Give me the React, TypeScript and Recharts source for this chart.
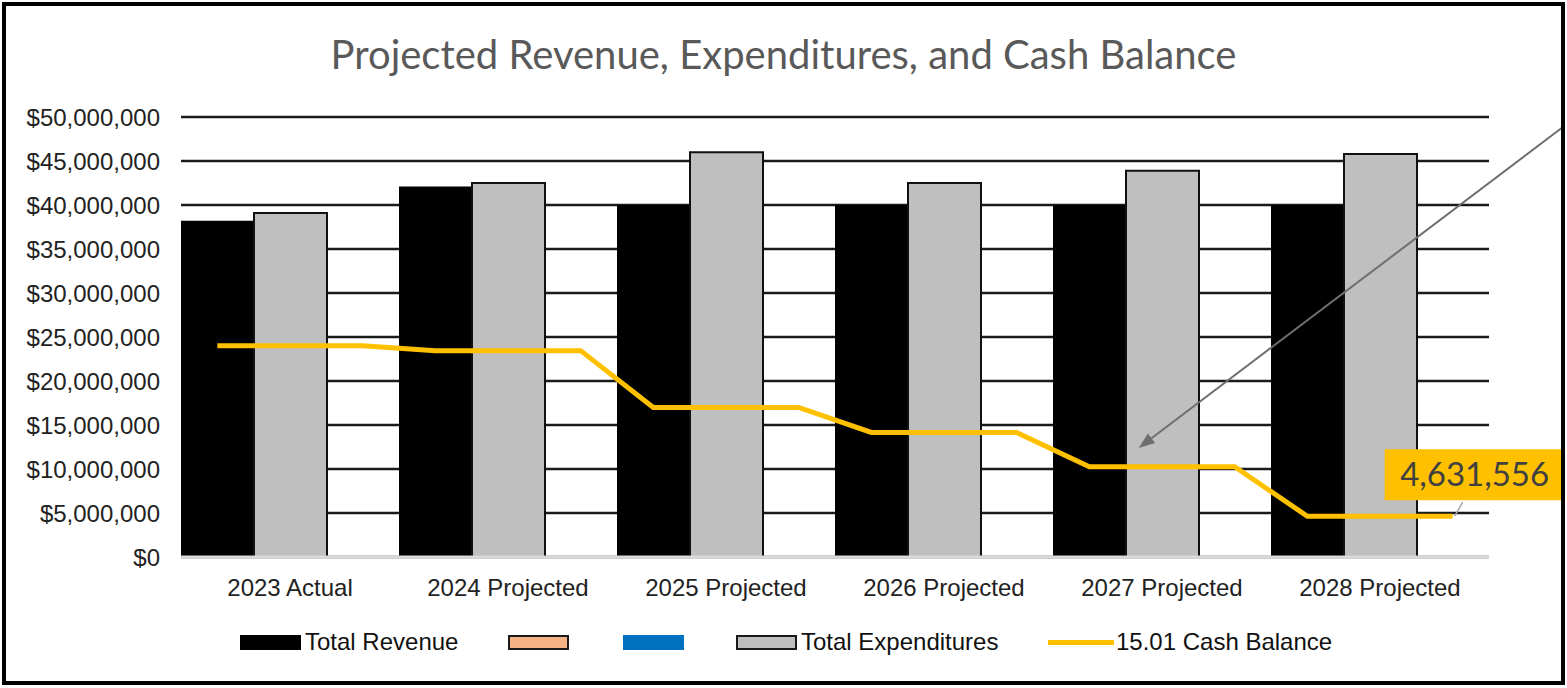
import React from 'react';
import {
  ComposedChart,
  Bar,
  Line,
  XAxis,
  YAxis,
  CartesianGrid,
  LabelList,
  ReferenceLine,
} from 'recharts';

const categories = [
  '2023 Actual',
  '2024 Projected',
  '2025 Projected',
  '2026 Projected',
  '2027 Projected',
  '2028 Projected',
];
const totalRevenue = [38200000, 42100000, 40000000, 40000000, 40000000, 40000000];
const totalExpenditures = [39100000, 42500000, 46000000, 42500000, 43900000, 45800000];
const orangeSeries = [0, 0, 0, 0, 0, 0];
const blueSeries = [0, 0, 0, 0, 0, 0];
const cashBalance = [24000000, 23450000, 17000000, 14150000, 10250000, 4631556];
const yTicks = [0, 5000000, 10000000, 15000000, 20000000, 25000000, 30000000, 35000000, 40000000, 45000000, 50000000];

const legendItems = [
  { label: 'Total Revenue', kind: 'rect', fill: '#000000', stroke: '#000000' },
  { label: '', kind: 'rect', fill: '#F4B183', stroke: '#1a1a1a' },
  { label: '', kind: 'rect', fill: '#0070C0', stroke: '#0070C0' },
  { label: 'Total Expenditures', kind: 'rect', fill: '#bfbfbf', stroke: '#1a1a1a' },
  { label: '15.01 Cash Balance', kind: 'line', fill: '#FFC000', stroke: '#FFC000' },
];
const legendLefts = [240, 508, 623, 736, 1048];

const barData = categories.map((name, i) => ({
  name,
  revenue: totalRevenue[i],
  expenditures: totalExpenditures[i],
  orange: orangeSeries[i],
  blue: blueSeries[i],
}));

// each category holds 3 bar slots; the cash line is flat from the 1st slot centre to the 3rd
const lineData = cashBalance.flatMap((v, i) => [
  { x: i * 3 + 0.5, cash: v },
  { x: i * 3 + 2.5, cash: v },
]);

const FONT = '"Liberation Sans", Arial, sans-serif';
const TITLE_FONT = 'Lato, "Open Sans", sans-serif';

const fmtDollar = (v: number) => '$' + v.toLocaleString('en-US');

const CashLabel = (props: any) => {
  const { x, y, index, value } = props;
  if (index !== lineData.length - 1) return null;
  return (
    <g>
      <line x1={x + 2} y1={y} x2={x + 10} y2={y - 14} stroke="#a6a6a6" strokeWidth={1.5} />
      <rect x={x - 68} y={y - 67} width={180} height={51} fill="#FFC000" />
      <text
        x={x + 22}
        y={y - 30}
        textAnchor="middle"
        fontFamily={TITLE_FONT}
        fontSize={33}
        fill="#404040"
      >
        {Number(value).toLocaleString('en-US')}
      </text>
    </g>
  );
};

const ArrowShape = (props: any) => {
  const { x1, y1, x2, y2 } = props;
  const ang = Math.atan2(y2 - y1, x2 - x1);
  const len = 16;
  const w = 6;
  const bx = x2 - len * Math.cos(ang);
  const by = y2 - len * Math.sin(ang);
  const px = -Math.sin(ang) * w;
  const py = Math.cos(ang) * w;
  return (
    <g>
      <line x1={x1} y1={y1} x2={bx} y2={by} stroke="#6e6e6e" strokeWidth={2} />
      <polygon points={`${x2},${y2} ${bx + px},${by + py} ${bx - px},${by - py}`} fill="#6e6e6e" />
    </g>
  );
};

export default function App() {
  return (
    <div
      style={{
        position: 'absolute',
        left: 0,
        top: 0,
        width: 1567,
        height: 688,
        background: '#ffffff',
        overflow: 'hidden',
      }}
    >
      <div
        style={{
          position: 'absolute',
          left: 0,
          top: 30,
          width: 1567,
          textAlign: 'center',
          fontFamily: TITLE_FONT,
          fontSize: 40,
          color: '#595959',
          lineHeight: '48px',
        }}
      >
        Projected Revenue, Expenditures, and Cash Balance
      </div>
      <ComposedChart
        width={1567}
        height={688}
        data={barData}
        margin={{ top: 117, right: 78, left: 0, bottom: 101 }}
        barCategoryGap={0}
        barGap={0}
        style={{ position: 'absolute', left: 0, top: 0 }}
      >
        <CartesianGrid vertical={false} stroke="#1a1a1a" strokeWidth={2.5} yAxisId="y" xAxisId="cat" />
        <XAxis
          xAxisId="cat"
          dataKey="name"
          tickLine={false}
          axisLine={{ stroke: '#d9d9d9', strokeWidth: 3 }}
          tickSize={0}
          tickMargin={22}
          height={30}
          tick={{ fontFamily: FONT, fontSize: 24, fill: '#222222' }}
          interval={0}
        />
        <XAxis xAxisId="num" type="number" dataKey="x" domain={[0, 18]} hide />
        <YAxis
          yAxisId="y"
          domain={[0, 50000000]}
          ticks={yTicks}
          tickFormatter={fmtDollar}
          axisLine={false}
          tickLine={false}
          tickSize={0}
          tickMargin={21}
          width={181}
          tick={{ fontFamily: FONT, fontSize: 24, fill: '#222222' }}
        />
        <Bar
          xAxisId="cat"
          yAxisId="y"
          dataKey="revenue"
          stackId="a"
          name="Total Revenue"
          fill="#000000"
          isAnimationActive={false}
        />
        <Bar
          xAxisId="cat"
          yAxisId="y"
          dataKey="expenditures"
          stackId="b"
          name="Total Expenditures"
          fill="#bfbfbf"
          stroke="#111111"
          strokeWidth={2}
          isAnimationActive={false}
        />
        <Bar xAxisId="cat" yAxisId="y" dataKey="orange" stackId="c" fill="#F4B183" isAnimationActive={false} />
        <Bar xAxisId="cat" yAxisId="y" dataKey="blue" stackId="c" fill="#0070C0" isAnimationActive={false} />
        <Line
          xAxisId="num"
          yAxisId="y"
          data={lineData}
          dataKey="cash"
          type="linear"
          stroke="#FFC000"
          strokeWidth={5}
          dot={false}
          activeDot={false}
          isAnimationActive={false}
        >
          <LabelList dataKey="cash" content={CashLabel} />
        </Line>
        <ReferenceLine
          xAxisId="num"
          yAxisId="y"
          segment={[
            { x: 19.0, y: 48750000 },
            { x: 13.18, y: 12400000 },
          ]}
          ifOverflow="visible"
          shape={ArrowShape}
        />
      </ComposedChart>
      {legendItems.map((item, i) => (
        <div
          key={i}
          style={{
            position: 'absolute',
            left: legendLefts[i],
            top: 628,
            height: 28,
            display: 'flex',
            alignItems: 'center',
            fontFamily: FONT,
            fontSize: 24,
            color: '#111111',
            whiteSpace: 'nowrap',
          }}
        >
          {item.kind === 'rect' ? (
            <span
              style={{
                display: 'inline-block',
                width: 57,
                height: 11,
                background: item.fill,
                border: `2px solid ${item.stroke}`,
                marginRight: 4,
              }}
            />
          ) : (
            <span
              style={{
                display: 'inline-block',
                width: 66,
                height: 5,
                background: item.fill,
                marginRight: 2,
              }}
            />
          )}
          {item.label}
        </div>
      ))}
      <div
        style={{
          position: 'absolute',
          left: 2,
          top: 2,
          width: 1563,
          height: 683,
          border: '4px solid #000000',
          boxSizing: 'border-box',
          pointerEvents: 'none',
        }}
      />
    </div>
  );
}
